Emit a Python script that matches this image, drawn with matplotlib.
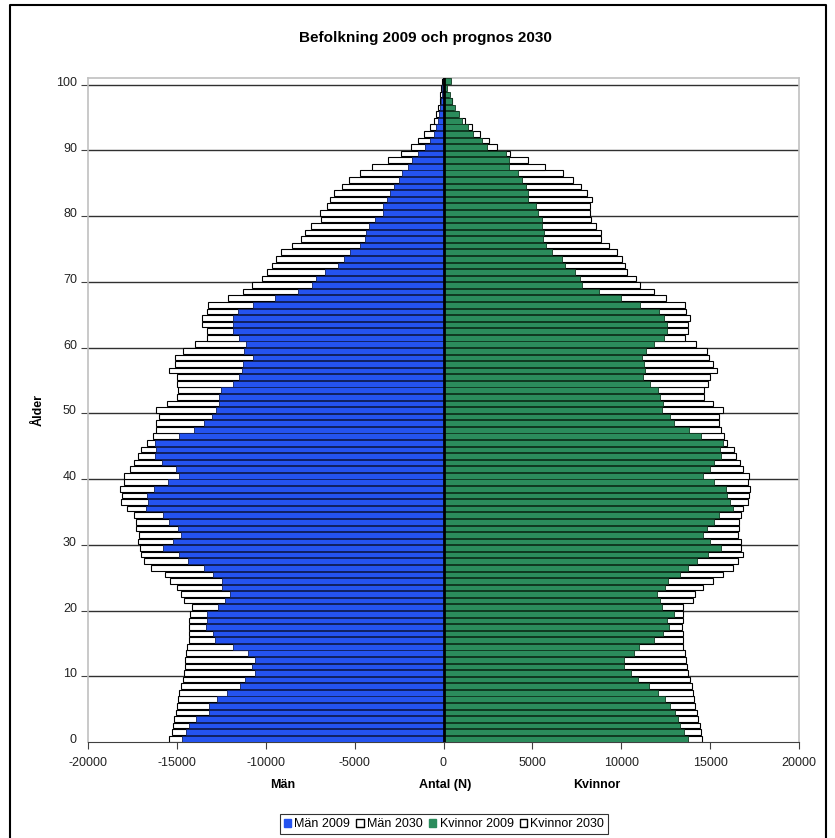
import numpy as np
import matplotlib
matplotlib.use('Agg')
import matplotlib.pyplot as plt
import matplotlib.ticker as ticker
from matplotlib.patches import Patch
from matplotlib.lines import Line2D

plt.rcParams['font.family'] = ['Liberation Sans', 'DejaVu Sans']
plt.rcParams['axes.unicode_minus'] = False

ages = np.arange(0, 101)

# population by age 0..100
man_2009 = [14720, 14490, 14310, 13930, 13180, 13220, 12720, 12160, 11440, 11160,
            10620, 10790, 10620, 10980, 11840, 12850, 12960, 13370, 13280, 13280,
            12680, 12290, 12020, 12470, 12470, 12960, 13460, 14380, 14900, 15800,
            15240, 14770, 14960, 15430, 15800, 16740, 16620, 16700, 16270, 15520,
            14900, 15050, 15840, 16210, 16180, 16250, 14900, 14030, 13500, 13030,
            12810, 12620, 12620, 12490, 11820, 11500, 11350, 11260, 10700, 11220,
            11090, 11500, 11870, 11820, 11820, 11560, 10700, 9500, 8170, 7420,
            7200, 6640, 5930, 5610, 5240, 4680, 4430, 4360, 4170, 3830,
            3420, 3420, 3180, 2990, 2800, 2520, 2340, 2000, 1780, 1450,
            1030, 750, 560, 430, 320, 240, 190, 130, 90, 60, 50]
man_2030 = [15460, 15300, 15240, 15180, 15030, 15000, 14960, 14870, 14770, 14680,
            14620, 14570, 14530, 14490, 14440, 14340, 14340, 14340, 14340, 14250,
            14170, 14620, 14740, 15020, 15390, 15650, 16460, 16870, 17020, 17050,
            17200, 17150, 17300, 17320, 17390, 17800, 18120, 18100, 18180, 17970,
            17970, 17620, 17430, 17170, 17020, 16700, 16360, 16180, 16180, 16030,
            16180, 15580, 14980, 14920, 15000, 15000, 15430, 15110, 15110, 14640,
            13990, 13330, 13330, 13590, 13590, 13330, 13240, 12100, 11280, 10750,
            10230, 9910, 9630, 9400, 9160, 8510, 8040, 7800, 7480, 6880,
            6920, 6545, 6360, 6170, 5700, 5330, 4710, 4020, 3120, 2375,
            1850, 1440, 1085, 785, 540, 430, 320, 225, 170, 130, 100]
kvinnor_2009 = [13780, 13520, 13330, 13180, 13000, 12750, 12470, 12060, 11540, 10940,
                10530, 10140, 10140, 10700, 11000, 11870, 12360, 12660, 12590, 12940,
                12290, 12190, 12010, 12440, 12620, 13280, 13780, 14270, 14870, 15610,
                15000, 14590, 14830, 15200, 15520, 16270, 16140, 15950, 15900, 15200,
                14600, 15020, 15200, 15610, 15560, 15710, 14490, 13800, 12940, 12750,
                12290, 12340, 12190, 12060, 11590, 11220, 11310, 11280, 11160, 11410,
                11820, 12400, 12550, 12550, 12400, 12100, 11030, 10000, 8730, 7780,
                7670, 7390, 6860, 6640, 6080, 5740, 5610, 5670, 5550, 5520,
                5290, 5180, 4770, 4770, 4620, 4430, 4170, 3700, 3700, 3520,
                2430, 2150, 1650, 1370, 1030, 880, 620, 500, 340, 190, 430]
kvinnor_2030 = [14530, 14500, 14440, 14340, 14250, 14160, 14120, 14060, 13970, 13880,
                13780, 13710, 13650, 13590, 13500, 13500, 13460, 13410, 13500, 13500,
                13500, 14060, 14160, 14620, 15150, 15710, 16270, 16550, 16830, 16740,
                16740, 16550, 16640, 16640, 16740, 16830, 17110, 17170, 17240, 17110,
                17200, 16830, 16700, 16460, 16360, 15930, 15800, 15610, 15520, 15520,
                15710, 15170, 14680, 14680, 14870, 15000, 15370, 15150, 14960, 14830,
                14230, 13590, 13740, 13740, 13890, 13650, 13590, 12490, 11840, 11070,
                10810, 10340, 10190, 10040, 9780, 9310, 8850, 8850, 8600, 8320,
                8230, 8230, 8360, 8100, 7760, 7290, 6730, 5700, 4770, 3760,
                3010, 2560, 2080, 1590, 1220, 840, 560, 470, 280, 150, 300]

blue = '#2453f0'
green = '#2b8c5c'

fig = plt.figure(figsize=(8.35, 8.38), dpi=100)
ax = fig.add_axes([88/835, 1 - 742/838, 711/835, 664/838])

h = 0.86
ax.barh(ages, -np.array(man_2030), height=h, color='white', edgecolor='black', linewidth=0.8, zorder=2)
ax.barh(ages, kvinnor_2030, height=h, color='white', edgecolor='black', linewidth=0.8, zorder=2)
ax.barh(ages, -np.array(man_2009), height=h, color=blue, edgecolor='#102060', linewidth=0.6, zorder=3)
ax.barh(ages, kvinnor_2009, height=h, color=green, edgecolor='#103820', linewidth=0.6, zorder=3)
ax.axvline(0, color='black', linewidth=2, zorder=4)

ax.set_xlim(-20000, 20000)
ax.set_ylim(-0.5, 100.5)
ax.xaxis.set_major_locator(ticker.MultipleLocator(5000))
ax.xaxis.set_major_formatter(ticker.FuncFormatter(lambda v, p: '%d' % v))
ax.set_yticks(np.arange(9.5, 100, 10))
ax.set_yticklabels([])
ax.set_yticks(np.arange(0, 101, 10), minor=True)
ax.set_yticklabels([str(a) for a in range(0, 101, 10)], minor=True)
ax.tick_params(axis='y', which='major', length=5, color='#404040')
ax.tick_params(axis='y', which='minor', length=0, pad=8, labelsize=9, labelcolor='#222222')
ax.tick_params(axis='x', length=5, color='#404040', labelsize=9, labelcolor='#222222', pad=6)
ax.grid(axis='y', which='major', color='#303030', linewidth=1, zorder=1)
ax.set_axisbelow(True)
for side in ['left', 'right', 'top']:
    ax.spines[side].set_color('#c0c0c0')
    ax.spines[side].set_linewidth(1.2)
ax.spines['bottom'].set_color('#404040')

ax.set_ylabel('Ålder', fontsize=9, fontweight='bold', labelpad=8)
fig.text(283/835, 1 - 785/838, 'Män', ha='center', va='center', fontsize=9, fontweight='bold')
fig.text(445/835, 1 - 785/838, 'Antal (N)', ha='center', va='center', fontsize=9, fontweight='bold')
fig.text(597/835, 1 - 785/838, 'Kvinnor', ha='center', va='center', fontsize=9, fontweight='bold')
fig.text(425/835, 1 - 38/838, 'Befolkning 2009 och prognos 2030', ha='center', va='center',
         fontsize=11, fontweight='bold')

handles = [Patch(facecolor=blue, edgecolor=blue), Patch(facecolor='white', edgecolor='black'),
           Patch(facecolor=green, edgecolor=green), Patch(facecolor='white', edgecolor='black')]
labels = ['Män 2009', 'Män 2030', 'Kvinnor 2009', 'Kvinnor 2030']
leg = fig.legend(handles, labels, loc='center', bbox_to_anchor=(444/835, 1 - 824/838), ncol=4,
                 fontsize=9, frameon=True, fancybox=False, handlelength=0.6, handleheight=0.6,
                 handletextpad=0.25, columnspacing=0.5, borderpad=0.3)
leg.get_frame().set_edgecolor('black')
leg.get_frame().set_linewidth(0.8)

# outer chart border
fig.add_artist(Line2D([10/835, 10/835, 826/835, 826/835], [0, 1 - 5/838, 1 - 5/838, 0],
                      color='black', linewidth=1.5, transform=fig.transFigure))

fig.savefig('out.png', dpi=100)
